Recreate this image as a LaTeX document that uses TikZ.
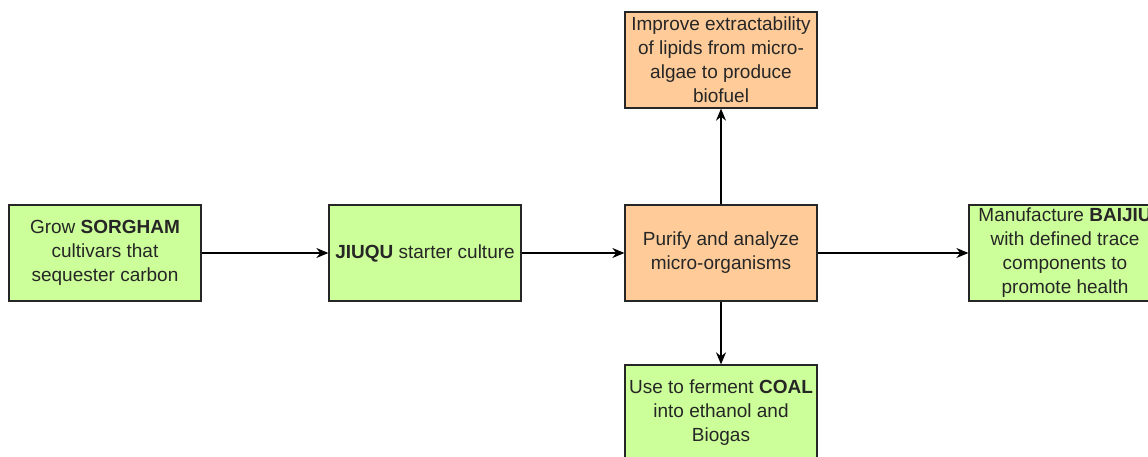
\documentclass[tikz,border=0pt]{standalone}
\usepackage{fontspec}
\setmainfont{Liberation Sans}
\usepackage{xcolor}
\usetikzlibrary{arrows.meta,positioning}
\definecolor{boxgreen}{HTML}{CCFF99}
\definecolor{boxorange}{HTML}{FFCC99}
\definecolor{txtgray}{HTML}{262626}

\begin{document}
\begin{tikzpicture}[x=1pt,y=-1pt,
        stepbox/.style={draw=black!85, line width=1.3pt, minimum width=192pt, minimum height=96pt,
            inner sep=0pt, align=center, text=txtgray, font=\fontsize{19}{24}\selectfont},
        greenbox/.style={stepbox, fill=boxgreen},
        orangebox/.style={stepbox, fill=boxorange},
        flow/.style={line width=1.3pt, -{Stealth[length=12pt,width=10pt]}}]
                \useasboundingbox (0,0) rectangle (1148,457);
                \node[greenbox] (sorgham) at (105,253) {Grow \textbf{SORGHAM}\\cultivars that\\sequester carbon};
                \node[greenbox] (jiuqu) at (425,253) {\textbf{JIUQU} starter culture};
                \node[orangebox] (purify) at (721,253) {Purify and analyze\\micro-organisms};
                \node[orangebox] (lipids) at (721,60) {Improve extractability\\of lipids from micro-\\algae to produce\\biofuel};
                \node[greenbox] (coal) at (721,413) {Use to ferment \textbf{COAL}\\into ethanol and\\Biogas};
                \node[greenbox] (baijiu) at (1065,253) {Manufacture \textbf{BAIJIU}\\with defined trace\\components to\\promote health};
                \draw[flow] (sorgham) -- (jiuqu);
                \draw[flow] (jiuqu) -- (purify);
                \draw[flow] (purify) -- (lipids);
                \draw[flow] (purify) -- (coal);
                \draw[flow] (purify) -- (baijiu);
            \end{tikzpicture}
\end{document}
